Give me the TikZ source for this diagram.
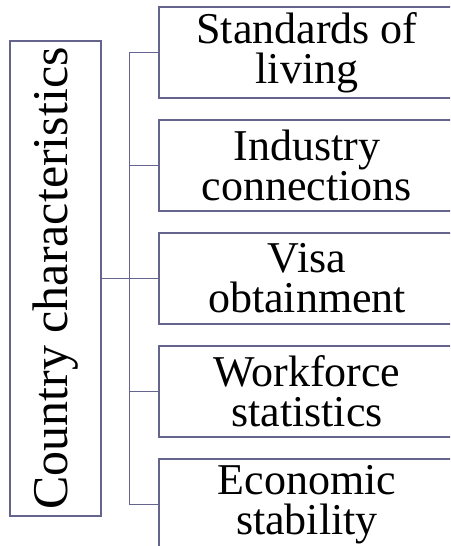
\documentclass[tikz,border=0pt]{standalone}
\usepackage{fontspec}
\setmainfont{Liberation Serif}
\usetikzlibrary{positioning}

\definecolor{linecol}{RGB}{100,100,140}

\begin{document}
\begin{tikzpicture}[x=1pt, y=1pt,
    box/.style={draw=linecol, line width=1.5pt, fill=white, inner sep=0pt},
    item/.style={box, minimum width=296pt, minimum height=91pt, align=center,
        font=\fontsize{44}{40}\selectfont},
    link/.style={draw=linecol, line width=1.5pt}]
\useasboundingbox (0,0) rectangle (450,546);
\clip (0,0) rectangle (450,546);
% main box, text running upwards
\node[box, rotate=90, minimum width=475pt, minimum height=91pt,
    font=\fontsize{50}{50}\selectfont] (country) at (55.5,267.5) {Country characteristics};
% the five branches
\foreach \name/\txt [count=\i] in {living/{Standards of\\living},
    industry/{Industry\\connections}, visa/{Visa\\obtainment},
    workforce/{Workforce\\statistics}, economy/{Economic\\stability}} {
    \node[item] (\name) at (307,{493.5-(\i-1)*113}) {\txt};
    \draw[link] (\name.west) -- ++(-29,0) coordinate (\name-j);
}
\draw[link] (living-j) -- (economy-j);
\draw[link] (country.south) -- (visa.west);
\end{tikzpicture}
\end{document}
